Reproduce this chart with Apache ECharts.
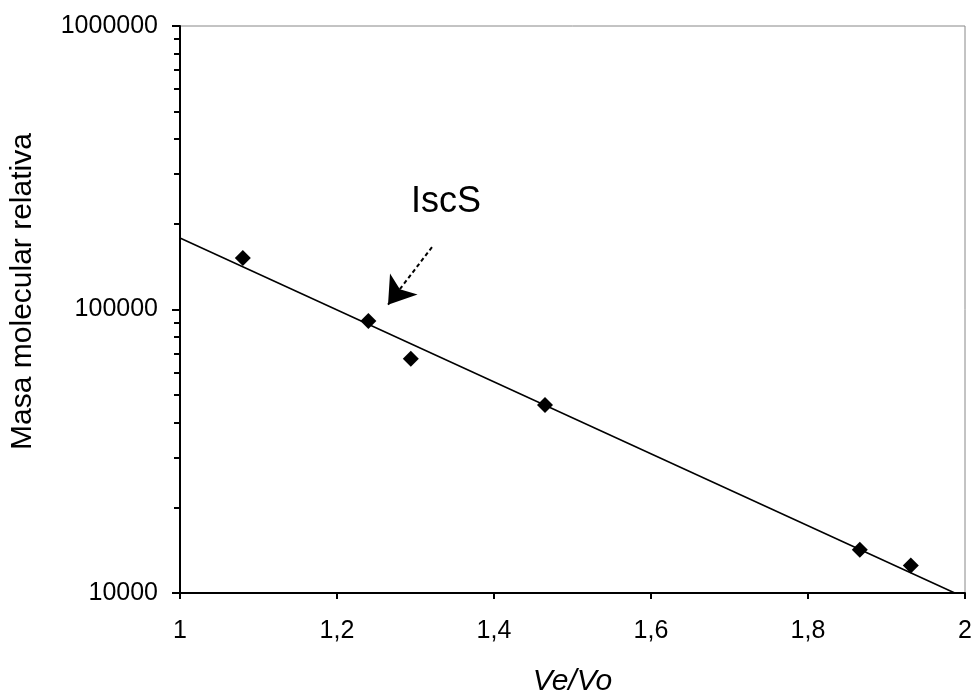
<!DOCTYPE html>
<html>
<head>
<meta charset="utf-8">
<script src="https://cdn.jsdelivr.net/npm/echarts@6/dist/echarts.min.js"></script>
<style>html,body{margin:0;padding:0;background:#fff}#c{width:972px;height:693px}</style>
</head>
<body>
<div id="c"></div>
<script>
// Measured points (Ve/Vo, relative molecular mass)
var pointsX = [1.08, 1.24, 1.294, 1.465, 1.866, 1.931];
var pointsY = [152000, 91000, 67000, 46000, 14200, 12500];
// Trend line endpoints
var trendX = [1.0, 1.987];
var trendY = [178700, 10000];
// Annotation arrow (start, end) and label position
var arrowX = [1.321, 1.265];
var arrowY = [166000, 104000];
var noteLabel = 'IscS';
var noteX = 1.339;
var noteY = 240000;
var xTicks = [1, 1.2, 1.4, 1.6, 1.8, 2];
var yTicks = [10000, 100000, 1000000];

var font = 'Liberation Sans, Arial, sans-serif';
var chart = echarts.init(document.getElementById('c'));
chart.setOption({
  animation: false,
  backgroundColor: '#fff',
  grid: {left: 180, right: 7, top: 26, bottom: 100, containLabel: false, outerBoundsMode: 'none',
    show: true, borderColor: '#888', borderWidth: 1, backgroundColor: 'transparent'},
  xAxis: {
    type: 'value', min: xTicks[0], max: xTicks[xTicks.length - 1], interval: 0.2,
    name: 'Ve/Vo', nameLocation: 'middle', nameGap: 74,
    nameTextStyle: {fontFamily: font, fontSize: 30, fontStyle: 'italic', color: '#000'},
    axisLine: {show: true, lineStyle: {color: '#000', width: 2}},
    axisTick: {show: true, length: 6, lineStyle: {color: '#000', width: 2}},
    splitLine: {show: false},
    axisLabel: {margin: 26, fontFamily: font, fontSize: 25, color: '#000',
      formatter: function (v) { return Number.isInteger(v) ? String(v) : v.toFixed(1).replace('.', ','); }}
  },
  yAxis: {
    type: 'log', logBase: 10, min: yTicks[0], max: yTicks[yTicks.length - 1],
    name: 'Masa molecular relativa', nameLocation: 'middle', nameGap: 142,
    nameTextStyle: {fontFamily: font, fontSize: 30, color: '#000', padding: [0, 0, 0, 36]},
    axisLine: {show: true, lineStyle: {color: '#000', width: 2}},
    axisTick: {show: true, length: 8, lineStyle: {color: '#000', width: 2}},
    minorTick: {show: true, splitNumber: 9, length: 6, lineStyle: {color: '#000', width: 2}},
    splitLine: {show: false},
    minorSplitLine: {show: false},
    axisLabel: {margin: 22, fontFamily: font, fontSize: 25, color: '#000',
      formatter: function (v) { return String(Math.round(v)); }}
  },
  series: [
    {
      type: 'line', data: trendX.map(function (x, i) { return [x, trendY[i]]; }),
      symbol: 'none', lineStyle: {color: '#000', width: 1.5}, z: 2,
      markLine: {
        silent: true, symbol: ['none', 'arrow'], symbolSize: 26,
        lineStyle: {color: '#000', width: 2, type: [4, 3], opacity: 1},
        itemStyle: {color: '#000'},
        label: {show: false},
        data: [[{coord: [arrowX[0], arrowY[0]]}, {coord: [arrowX[1], arrowY[1]]}]]
      },
      markPoint: {
        silent: true, symbol: 'circle', symbolSize: 0,
        label: {show: true, formatter: noteLabel, fontFamily: font, fontSize: 36, color: '#000', position: 'inside'},
        data: [{coord: [noteX, noteY]}]
      }
    },
    {
      type: 'scatter', symbol: 'diamond', symbolSize: 16,
      itemStyle: {color: '#000', opacity: 1}, z: 3,
      data: pointsX.map(function (x, i) { return [x, pointsY[i]]; })
    }
  ]
});
</script>
</body>
</html>
